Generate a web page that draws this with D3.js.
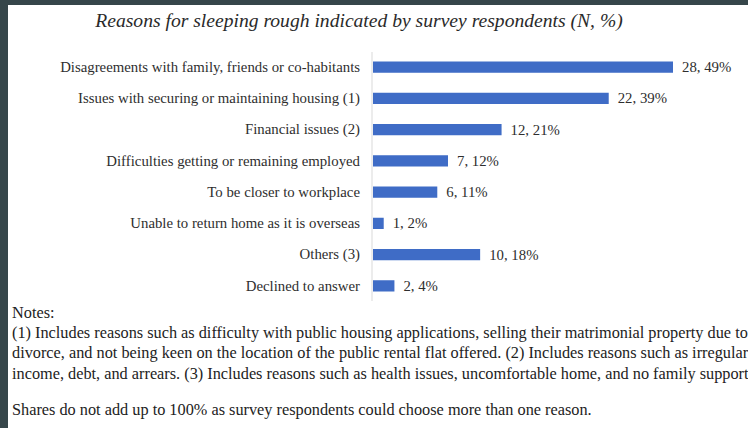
<!DOCTYPE html>
<html>
<head>
<meta charset="utf-8">
<script src="https://cdn.jsdelivr.net/npm/d3@7"></script>
<style>
  html, body { margin: 0; padding: 0; background: #36464a; }
  svg { display: block; }
</style>
</head>
<body>
<svg id="chart" width="748" height="428"></svg>
<script>
const categories = [
  "Disagreements with family, friends or co-habitants",
  "Issues with securing or maintaining housing (1)",
  "Financial issues (2)",
  "Difficulties getting or remaining employed",
  "To be closer to workplace",
  "Unable to return home as it is overseas",
  "Others (3)",
  "Declined to answer"
];
const counts = [28, 22, 12, 7, 6, 1, 10, 2];
const percents = [49, 39, 21, 12, 11, 2, 18, 4];
const title = "Reasons for sleeping rough indicated by survey respondents (N, %)";
const notesHeader = "Notes:";
const notesLines = [
  "(1) Includes reasons such as difficulty with public housing applications, selling their matrimonial property due to",
  "divorce, and not being keen on the location of the public rental flat offered. (2) Includes reasons such as irregular",
  "income, debt, and arrears. (3) Includes reasons such as health issues, uncomfortable home, and no family support."
];
const footnote = "Shares do not add up to 100% as survey respondents could choose more than one reason.";

const svg = d3.select("#chart");
const W = 748, H = 428;
const serif = "'Liberation Serif', 'Times New Roman', serif";

// frame: dark border left/top, white page
svg.append("rect").attr("x", 0).attr("y", 0).attr("width", W).attr("height", H).attr("fill", "#36464a");
svg.append("rect").attr("x", 8).attr("y", 5).attr("width", W - 8).attr("height", H - 5).attr("fill", "#ffffff");

// title
svg.append("text")
  .attr("x", 359).attr("y", 27)
  .attr("text-anchor", "middle")
  .attr("font-family", serif)
  .attr("font-style", "italic")
  .attr("font-size", 19.6)
  .attr("fill", "#2a2a2a")
  .text(title);

const x0 = 373;
const x = d3.scaleLinear().domain([0, 28]).range([x0, 673]);
const y = d3.scaleBand().domain(categories).range([51.5, 301.5]).paddingInner(0.64).paddingOuter(0.32);

// axis line
svg.append("line")
  .attr("x1", 372).attr("x2", 372)
  .attr("y1", 52).attr("y2", 301)
  .attr("stroke", "#d9d9d9").attr("stroke-width", 1);

const yAxis = d3.axisLeft(y).tickSize(0).tickPadding(0);
const gy = svg.append("g").attr("transform", `translate(${360},0)`).call(yAxis);
gy.select(".domain").remove();
gy.selectAll("text")
  .attr("font-family", serif)
  .attr("font-size", 14.8)
  .attr("fill", "#2e2e2e");

const rows = categories.map((c, i) => ({ c, n: counts[i], p: percents[i] }));

svg.append("g").selectAll("rect")
  .data(rows).join("rect")
  .attr("x", x(0))
  .attr("y", d => y(d.c))
  .attr("width", d => x(d.n) - x(0))
  .attr("height", y.bandwidth())
  .attr("fill", "#3f6cc6");

svg.append("g").selectAll("text")
  .data(rows).join("text")
  .attr("x", d => x(d.n) + 9)
  .attr("y", d => y(d.c) + y.bandwidth() / 2)
  .attr("dy", "0.34em")
  .attr("font-family", serif)
  .attr("font-size", 14.8)
  .attr("fill", "#2e2e2e")
  .text(d => `${d.n}, ${d.p}%`);

// notes
const notes = svg.append("g")
  .attr("font-family", serif)
  .attr("font-size", 16.3)
  .attr("fill", "#222");
notes.append("text").attr("x", 12).attr("y", 318).text(notesHeader);
notes.selectAll("text.line")
  .data(notesLines).join("text")
  .attr("class", "line")
  .attr("x", 12)
  .attr("y", (d, i) => 338 + i * 20.3)
  .text(d => d);
notes.append("text").attr("x", 12).attr("y", 415).text(footnote);
</script>
</body>
</html>
